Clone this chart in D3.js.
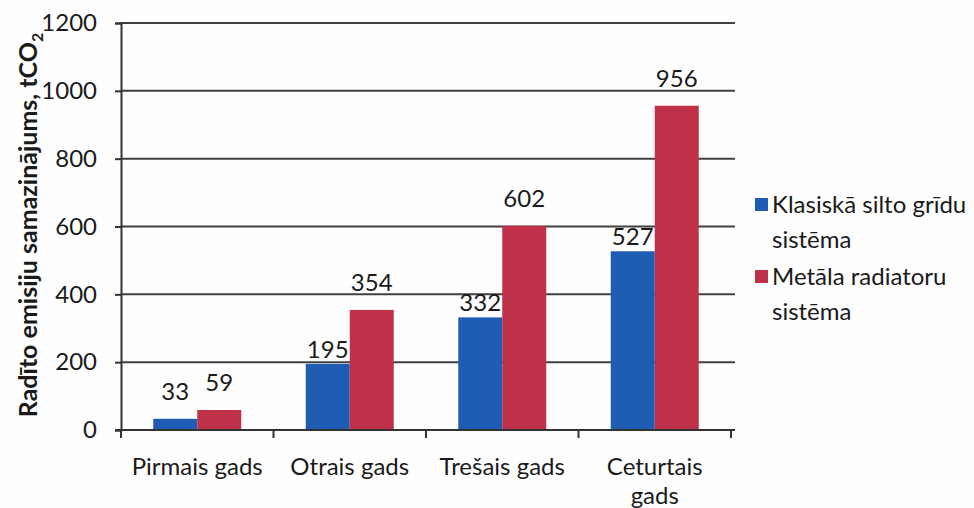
<!DOCTYPE html>
<html><head><meta charset="utf-8">
<script src="https://cdn.jsdelivr.net/npm/d3@7"></script>
<style>
body{margin:0;background:#fefefe;}
svg{display:block;font-family:Lato,"Open Sans",sans-serif;}
</style></head>
<body><svg id="c" width="974" height="508"></svg>
<script>
const categories = [["Pirmais gads"],["Otrais gads"],["Trešais gads"],["Ceturtais","gads"]];
const seriesNames = [["Klasiskā silto grīdu","sistēma"],["Metāla radiatoru","sistēma"]];
const blueValues = [33,195,332,527];
const redValues = [59,354,602,956];
const yTicks = [0,200,400,600,800,1000,1200];
const colors = ["#1f5cb4","#bf3049"];

(function(){
const svg = d3.select("#c");
const pl = 121, pr = 731, pt = 23, pb = 430;
const x = d3.scaleBand().domain(d3.range(categories.length)).range([pl, pr]);
const y = d3.scaleLinear().domain([0,1200]).range([pb, pt]);
const bw = 44;
const ink = "#1a1a1a";

// gridlines
svg.append("g").selectAll("line").data(yTicks.filter(d=>d>0)).join("line")
  .attr("x1", pl).attr("x2", 735).attr("y1", d=>y(d)).attr("y2", d=>y(d))
  .attr("stroke","#404040").attr("stroke-width",2);

const series = [blueValues, redValues];
series.forEach((vals, si) => {
  svg.append("g").selectAll("rect").data(vals).join("rect")
    .attr("x", (d,i)=> x(i) + x.bandwidth()/2 - bw + si*bw)
    .attr("width", bw)
    .attr("y", d=>y(d)).attr("height", d=>pb - y(d))
    .attr("fill", colors[si]);
  svg.append("g").selectAll("text").data(vals).join("text")
    .attr("x", (d,i)=> x(i) + x.bandwidth()/2 - bw/2 + si*bw)
    .attr("y", d=> y(d) - (si===1 || d<100 ? 19 : 6))
    .attr("text-anchor","middle").attr("font-size",24).attr("fill",ink)
    .text(d=>d);
});

// y axis
const yAxis = svg.append("g").attr("transform",`translate(${pl},0)`)
  .call(d3.axisLeft(y).tickValues(yTicks).tickSize(6).tickPadding(18).tickFormat(d3.format("d")));
yAxis.select(".domain").attr("stroke","#333").attr("stroke-width",2);
yAxis.selectAll(".tick line").attr("stroke","#333").attr("stroke-width",2);
yAxis.selectAll("text").attr("font-size",24).attr("fill",ink).attr("font-family","Lato,sans-serif");

// x axis
const xAxis = svg.append("g").attr("transform",`translate(0,${pb})`);
xAxis.append("line").attr("x1",pl-6).attr("x2",735).attr("y1",0).attr("y2",0)
  .attr("stroke","#333").attr("stroke-width",2);
const xt = d3.range(categories.length+1).map(i => i<categories.length ? x(i) : pr);
xAxis.selectAll(".t").data(xt).join("line").attr("class","t")
  .attr("x1",d=>d).attr("x2",d=>d).attr("y1",0).attr("y2",8)
  .attr("stroke","#333").attr("stroke-width",2);
categories.forEach((lines,i)=>{
  const t = xAxis.append("text").attr("text-anchor","middle").attr("font-size",24).attr("fill",ink);
  lines.forEach((l,j)=> t.append("tspan").attr("x", x(i)+x.bandwidth()/2).attr("y", 45 + j*29).text(l));
});

// y title
svg.append("text").attr("transform","translate(37,225) rotate(-90)")
  .attr("text-anchor","middle").attr("font-size",25).attr("font-weight","bold").attr("fill",ink)
  .call(t=>{ t.append("tspan").text("Radīto emisiju samazinājums, tCO");
             t.append("tspan").attr("font-size",16).attr("dy",6).text("2"); });

// legend
seriesNames.forEach((lines,i)=>{
  const gy = 213 + i*72;
  svg.append("rect").attr("x",755).attr("y",gy-15).attr("width",13).attr("height",13).attr("fill",colors[i]);
  const t = svg.append("text").attr("font-size",24).attr("fill",ink);
  lines.forEach((l,j)=> t.append("tspan").attr("x",772).attr("y", gy + j*35).text(l));
});
})();
</script></body></html>
